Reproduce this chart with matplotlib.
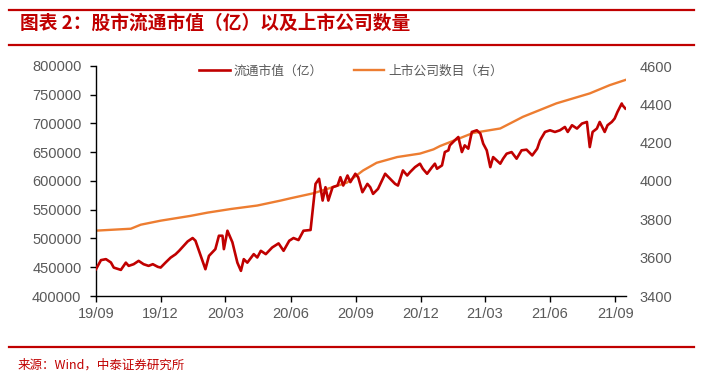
import matplotlib
matplotlib.use("Agg")
import matplotlib.pyplot as plt
import matplotlib.dates as mdates
import pandas as pd
from matplotlib.lines import Line2D

plt.rcParams['font.family'] = ['Liberation Sans', 'Noto Sans CJK SC', 'DejaVu Sans']

# ---- data ----
cap_dates = ["2019-09-01", "2019-09-08", "2019-09-15", "2019-09-22", "2019-09-26", "2019-10-06",
             "2019-10-13", "2019-10-17", "2019-10-24", "2019-10-31", "2019-11-07", "2019-11-14",
             "2019-11-20", "2019-11-27", "2019-12-01", "2019-12-08", "2019-12-15", "2019-12-22",
             "2019-12-27", "2020-01-08", "2020-01-15", "2020-01-19", "2020-01-24", "2020-02-02",
             "2020-02-07", "2020-02-16", "2020-02-21", "2020-02-26", "2020-02-28", "2020-03-04",
             "2020-03-11", "2020-03-18", "2020-03-23", "2020-03-27", "2020-04-01", "2020-04-10",
             "2020-04-15", "2020-04-20", "2020-04-27", "2020-05-06", "2020-05-15", "2020-05-22",
             "2020-05-30", "2020-06-05", "2020-06-12", "2020-06-19", "2020-06-29", "2020-07-06",
             "2020-07-11", "2020-07-16", "2020-07-20", "2020-07-24", "2020-07-30", "2020-08-06",
             "2020-08-10", "2020-08-14", "2020-08-20", "2020-08-24", "2020-08-31", "2020-09-04",
             "2020-09-10", "2020-09-17", "2020-09-21", "2020-09-25", "2020-10-02", "2020-10-12",
             "2020-10-19", "2020-10-26", "2020-10-30", "2020-11-06", "2020-11-12", "2020-11-16",
             "2020-11-23", "2020-11-30", "2020-12-04", "2020-12-10", "2020-12-17", "2020-12-21",
             "2020-12-24", "2020-12-31", "2021-01-04", "2021-01-09", "2021-01-11", "2021-01-18",
             "2021-01-23", "2021-01-28", "2021-02-01", "2021-02-06", "2021-02-11", "2021-02-18",
             "2021-02-23", "2021-02-27", "2021-03-04", "2021-03-09", "2021-03-13", "2021-03-18",
             "2021-03-23", "2021-03-27", "2021-04-01", "2021-04-08", "2021-04-15", "2021-04-22",
             "2021-04-29", "2021-05-07", "2021-05-14", "2021-05-18", "2021-05-25", "2021-06-01",
             "2021-06-08", "2021-06-15", "2021-06-22", "2021-06-26", "2021-07-02", "2021-07-09",
             "2021-07-16", "2021-07-23", "2021-07-27", "2021-07-31", "2021-08-06", "2021-08-10",
             "2021-08-17", "2021-08-21", "2021-08-27", "2021-08-31", "2021-09-04", "2021-09-10",
             "2021-09-11", "2021-09-15"]
cap_values = [446700, 462400, 464100, 458300, 449400, 445400,
              458000, 452400, 455300, 461100, 455300, 452400,
              455300, 450700, 449500, 458300, 466700, 472600,
              478600, 494900, 500800, 496100, 478600, 446600,
              469800, 481500, 504800, 504800, 481500, 513500,
              493400, 458000, 443700, 464100, 458000, 472800,
              467000, 478600, 472800, 484400, 491500, 478600,
              496100, 500800, 497300, 513500, 514800, 595000,
              603900, 566000, 589200, 566000, 589200, 592100,
              606700, 592100, 609600, 598000, 612600, 606700,
              580500, 595000, 589200, 577600, 586400, 612600,
              603900, 595000, 592100, 618400, 609600, 615400,
              624100, 630100, 621300, 612600, 624100, 630100,
              621300, 627100, 650300, 653300, 662000, 670700,
              676500, 650300, 662000, 656200, 685300, 688200,
              682500, 665000, 653300, 624100, 641600, 635800,
              630100, 638800, 647500, 650300, 638800, 653300,
              654500, 644500, 656200, 670700, 685300, 688200,
              685300, 688200, 694000, 685300, 697000, 691200,
              699900, 702700, 659000, 685300, 691200, 702700,
              685300, 697000, 702700, 708600, 720200, 734800,
              731900, 726100]

cnt_dates = ["2019-09-01", "2019-10-20", "2019-11-03", "2019-12-01", "2020-01-12", "2020-02-05",
             "2020-03-09", "2020-04-15", "2020-05-18", "2020-06-01", "2020-07-03", "2020-08-19",
             "2020-09-11", "2020-09-30", "2020-10-29", "2020-11-30", "2020-12-19", "2020-12-28",
             "2021-02-13", "2021-03-23", "2021-04-24", "2021-06-10", "2021-07-27", "2021-08-24",
             "2021-09-15"]
cnt_values = [3741, 3751, 3772, 3793, 3818, 3835,
              3854, 3872, 3898, 3910, 3936, 3991,
              4055, 4095, 4125, 4143, 4165, 4182,
              4251, 4274, 4335, 4405, 4457, 4500,
              4527]

x_ticks = ["2019-09-01", "2019-12-01", "2020-03-01", "2020-06-01", "2020-09-01",
           "2020-12-01", "2021-03-01", "2021-06-01", "2021-09-01"]
left_ticks = [400000, 450000, 500000, 550000, 600000, 650000, 700000, 750000, 800000]
right_ticks = [3400, 3600, 3800, 4000, 4200, 4400, 4600]

title = "图表 2：股市流通市值（亿）以及上市公司数量"
legend_labels = ["流通市值（亿）", "上市公司数目（右）"]
source = "来源：Wind，中泰证券研究所"

RED = "#C00000"
ORANGE = "#ED7D31"
GRAY = "#595959"

fig = plt.figure(figsize=(7.16, 3.80), dpi=100)
ax = fig.add_axes([96/716, 1-296/380, 530/716, 230/380])
ax2 = ax.twinx()

cd = pd.to_datetime(cap_dates)
nd = pd.to_datetime(cnt_dates)
ax2.plot(nd, cnt_values, color=ORANGE, lw=1.7, zorder=2)
ax.plot(cd, cap_values, color=RED, lw=1.9, zorder=3)
ax.set_zorder(ax2.get_zorder() + 1)
ax.patch.set_visible(False)

ax.set_xlim(pd.Timestamp("2019-09-01"), pd.Timestamp("2021-09-16"))
ax.set_ylim(400000, 800000)
ax2.set_ylim(3400, 4600)
ax.set_xticks(pd.to_datetime(x_ticks))
ax.xaxis.set_major_formatter(mdates.DateFormatter("%y/%m"))
ax.set_yticks(left_ticks)
ax2.set_yticks(right_ticks)

for a in (ax, ax2):
    for s in ("top", "right"):
        a.spines[s].set_visible(False)
ax2.spines["left"].set_visible(False)
ax2.spines["bottom"].set_visible(False)
ax.spines["left"].set_color("black")
ax.spines["bottom"].set_color("black")
ax.spines["left"].set_linewidth(1.0)
ax.spines["bottom"].set_linewidth(1.0)

ax.tick_params(axis="y", direction="out", length=4, width=1, pad=6.5, labelsize=10.5, labelcolor=GRAY)
ax.tick_params(axis="x", direction="out", length=4, width=1, pad=4, labelsize=10.5, labelcolor=GRAY)
ax2.tick_params(axis="y", length=0, pad=9.5, labelsize=10.5, labelcolor=GRAY)

handles = [Line2D([], [], color=RED, lw=1.9), Line2D([], [], color=ORANGE, lw=1.7)]
leg = fig.legend(handles, legend_labels, loc="center", bbox_to_anchor=(351/716, 1-71/380),
                 ncol=2, frameon=False, handlelength=2.4, handletextpad=0.3, columnspacing=2.4,
                 prop={"family": ["Noto Sans CJK SC"], "size": 9.2})
for t in leg.get_texts():
    t.set_color(GRAY)

# header / footer decorations
fig.add_artist(Line2D([9/716, 694/716], [1-10/380, 1-10/380], color=RED, lw=1.6))
fig.add_artist(Line2D([9/716, 694/716], [1-45/380, 1-45/380], color=RED, lw=1.6))
fig.add_artist(Line2D([9/716, 694/716], [1-347/380, 1-347/380], color=RED, lw=1.6))
fig.text(20/716, 1-23/380, title, color=RED, fontsize=13.5, fontweight="bold",
         family=["Noto Sans CJK SC"], va="center", ha="left")
fig.text(18/716, 1-365/380, source, color=RED, fontsize=9, family=["Noto Sans CJK SC"],
         va="center", ha="left")

fig.savefig("out.png", dpi=100)
